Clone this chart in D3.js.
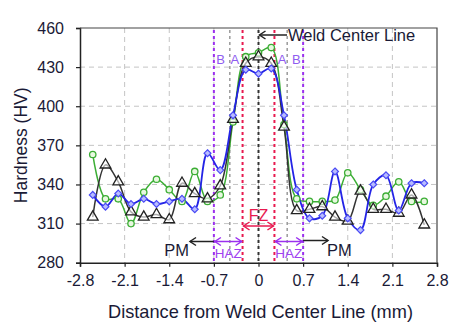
<!DOCTYPE html>
<html>
<head>
<meta charset="utf-8">
<script src="https://cdn.jsdelivr.net/npm/d3@7"></script>
<style>
  html, body { margin: 0; padding: 0; background: #fff; }
  svg text { font-family: "Liberation Sans", Arial, sans-serif; }
</style>
</head>
<body>
<svg id="chart" width="474" height="328"></svg>
<script>
// Measurement positions across the weld (mm from weld centre line)
const positions = [-2.6, -2.4, -2.2, -2.0, -1.8, -1.6, -1.4, -1.2, -1.0, -0.8, -0.6, -0.4, -0.2, 0,
                   0.2, 0.4, 0.6, 0.8, 1.0, 1.2, 1.4, 1.6, 1.8, 2.0, 2.2, 2.4, 2.6];

// Hardness traverses (HV)
const hardnessBlack = [315, 355, 342, 319, 315, 317, 313, 341, 333, 329, 339, 390, 433, 438,
                       433, 384, 320, 321, 323, 315, 312, 335, 321, 321, 318, 332, 309];
const hardnessGreen = [363, 329, 329, 310, 334, 344, 336, 327, 350, 327, 332, 388, 438, 441,
                       445, 386, 329, 327, 327, 328, 349, 336, 324, 331, 342, 327, 327];
const hardnessBlue  = [332, 323, 333, 325, 329, 325, 327, 329, 321, 364, 351, 393, 428, 425,
                       429, 393, 336, 314, 316, 350, 314, 305, 340, 347, 320, 341, 341];

// Axis ticks
const xTicks = [-2.8, -2.1, -1.4, -0.7, 0, 0.7, 1.4, 2.1, 2.8];
const yTicks = [280, 310, 340, 370, 400, 430, 460];

// Zone boundaries (mm)
const hazEdges = [-0.7, 0.7];
const subzoneEdges = [-0.45, 0.45];
const fzEdges = [-0.25, 0.25];
const centerLine = 0;

const svg = d3.select("#chart");
const pL = 80, pR = 437, pT = 28, pB = 262.7;

const x = d3.scaleLinear().domain([-2.8, 2.8]).range([pL, pR]);
const y = d3.scaleLinear().domain([280, 460]).range([pB, pT]);

const inkText = "#1a1a36";
const purple = "#9b30ef";
const red = "#e8194f";

// grid
const grid = svg.append("g");
grid.selectAll("line.h").data(yTicks.slice(1, -1)).enter().append("line")
  .attr("x1", pL).attr("x2", pR)
  .attr("y1", d => y(d)).attr("y2", d => y(d))
  .attr("stroke", "#c4c4c4").attr("stroke-width", 1).attr("stroke-dasharray", "5,4");
grid.selectAll("line.v").data(xTicks.slice(1, -1)).enter().append("line")
  .attr("y1", pT).attr("y2", pB)
  .attr("x1", d => x(d)).attr("x2", d => x(d))
  .attr("stroke", "#c4c4c4").attr("stroke-width", 1).attr("stroke-dasharray", "5,4");

// zone boundary lines
function vline(v, color, w) {
  svg.append("line")
    .attr("x1", x(v)).attr("x2", x(v)).attr("y1", pT + 2).attr("y2", pB)
    .attr("stroke", color).attr("stroke-width", w).attr("stroke-dasharray", "3,3");
}
subzoneEdges.forEach(v => vline(v, "#9a9a9a", 1.5));
hazEdges.forEach(v => vline(v, purple, 2));
fzEdges.forEach(v => vline(v, red, 2));
vline(centerLine, "#333", 2);

// zone letters
const zoneLabels = [
  { t: "B", x: (hazEdges[0] + subzoneEdges[0]) / 2 - 0.02 },
  { t: "A", x: (subzoneEdges[0] + fzEdges[0]) / 2 - 0.02 },
  { t: "A", x: (subzoneEdges[1] + fzEdges[1]) / 2 + 0.02 },
  { t: "B", x: (hazEdges[1] + subzoneEdges[1]) / 2 + 0.02 }
];
svg.selectAll("text.zone").data(zoneLabels).enter().append("text")
  .attr("x", d => x(d.x)).attr("y", 64)
  .attr("text-anchor", "middle").attr("font-size", 13)
  .attr("fill", "#8f5cf0").text(d => d.t);

// axes
const yAxis = d3.axisLeft(y).tickValues(yTicks).tickSize(4).tickPadding(12).tickFormat(d3.format("d"));
const gy = svg.append("g").attr("transform", `translate(${pL},0)`).call(yAxis);
gy.select(".domain").attr("stroke", "#222").attr("stroke-width", 1.5);
gy.selectAll(".tick line").attr("stroke", "#222").attr("stroke-width", 1.2);
gy.selectAll(".tick text").attr("font-size", 16).attr("fill", inkText)
  .attr("font-family", "Liberation Sans, Arial, sans-serif");

const xAxis = d3.axisBottom(x).tickValues(xTicks).tickSize(4).tickPadding(8)
  .tickFormat(d => d === 0 ? "0" : d.toFixed(1));
const gx = svg.append("g").attr("transform", `translate(0,${pB})`).call(xAxis);
gx.select(".domain").attr("stroke", "#222").attr("stroke-width", 1.5);
gx.selectAll(".tick line").attr("stroke", "#222").attr("stroke-width", 1.2);
gx.selectAll(".tick text").attr("font-size", 16).attr("fill", inkText)
  .attr("font-family", "Liberation Sans, Arial, sans-serif");

// frame top/right
svg.append("path")
  .attr("d", `M${pL},${pT}H${pR}V${pB}`)
  .attr("fill", "none").attr("stroke", "#444").attr("stroke-width", 1.2);

// axis titles
svg.append("text")
  .attr("transform", `translate(27,${(pT + pB) / 2}) rotate(-90)`)
  .attr("text-anchor", "middle").attr("font-size", 17.5).attr("fill", inkText)
  .text("Hardness (HV)");
svg.append("text")
  .attr("x", (pL + pR) / 2 + 2).attr("y", 318)
  .attr("text-anchor", "middle").attr("font-size", 18.2).attr("fill", inkText)
  .text("Distance from Weld Center Line (mm)");

// series
const line = d3.line().curve(d3.curveCatmullRom.alpha(0.5))
  .x(d => x(d[0])).y(d => y(d[1]));
const zip = vals => positions.map((p, i) => [p, vals[i]]);

const dBlack = zip(hardnessBlack), dGreen = zip(hardnessGreen), dBlue = zip(hardnessBlue);

svg.append("path").datum(dGreen).attr("d", line)
  .attr("fill", "none").attr("stroke", "#3cae35").attr("stroke-width", 1.5);
svg.append("path").datum(dBlack).attr("d", line)
  .attr("fill", "none").attr("stroke", "#333").attr("stroke-width", 1.5);
svg.append("path").datum(dBlue).attr("d", line)
  .attr("fill", "none").attr("stroke", "#2424e6").attr("stroke-width", 1.8);

// markers
svg.selectAll("circle.g").data(dGreen).enter().append("circle")
  .attr("cx", d => x(d[0])).attr("cy", d => y(d[1])).attr("r", 3.2)
  .attr("fill", "#e8f8e0").attr("stroke", "#3cae35").attr("stroke-width", 1.3);
const tri = d3.symbol().type(d3.symbolTriangle).size(50);
svg.selectAll("path.k").data(dBlack).enter().append("path")
  .attr("d", tri).attr("transform", d => `translate(${x(d[0])},${y(d[1])})`)
  .attr("fill", "#fff").attr("fill-opacity", 0.6).attr("stroke", "#222").attr("stroke-width", 1.3);
const dia = d3.symbol().type(d3.symbolDiamond2).size(30);
svg.selectAll("path.b").data(dBlue).enter().append("path")
  .attr("d", dia).attr("transform", d => `translate(${x(d[0])},${y(d[1])})`)
  .attr("fill", "#b8bcff").attr("stroke", "#4a4af5").attr("stroke-width", 1.2);

// arrows
function head(g, x0, y0, dir, color) {
  g.append("path")
    .attr("d", `M${x0 + dir * 6},${y0 - 4}L${x0},${y0}L${x0 + dir * 6},${y0 + 4}`)
    .attr("fill", "none").attr("stroke", color).attr("stroke-width", 1.5);
}
function arrow(x1, x2, yy, color, both) {
  const g = svg.append("g");
  g.append("line").attr("x1", x1).attr("x2", x2).attr("y1", yy).attr("y2", yy)
    .attr("stroke", color).attr("stroke-width", 1.5);
  head(g, x2, yy, x2 < x1 ? 1 : -1, color);
  if (both) head(g, x1, yy, x1 < x2 ? 1 : -1, color);
}

// weld centre line callout
arrow(287, x(centerLine) + 1, 35, "#222", false);
svg.append("text").attr("x", 288).attr("y", 41).attr("font-size", 16.5).attr("fill", inkText)
  .text("Weld Center Line");

// fusion zone
arrow(x(fzEdges[0]) + 1, x(fzEdges[1]) - 1, 226, red, true);
svg.append("text").attr("x", x(centerLine)).attr("y", 221).attr("text-anchor", "middle")
  .attr("font-size", 16).attr("fill", red).text("FZ");

// heat-affected zones
arrow(x(hazEdges[0]) + 1, x(fzEdges[0]) - 1, 241.5, purple, true);
arrow(x(fzEdges[1]) + 1, x(hazEdges[1]) - 1, 241.5, purple, true);
svg.append("text").attr("x", (x(hazEdges[0]) + x(fzEdges[0])) / 2).attr("y", 258)
  .attr("text-anchor", "middle").attr("font-size", 13.5).attr("fill", "#a040f0").text("HAZ");
svg.append("text").attr("x", (x(hazEdges[1]) + x(fzEdges[1])) / 2).attr("y", 258)
  .attr("text-anchor", "middle").attr("font-size", 13.5).attr("fill", "#a040f0").text("HAZ");

// parent metal
arrow(x(hazEdges[0]), 190, 241.5, "#222", false);
arrow(x(hazEdges[1]), 328, 240.5, "#222", false);
svg.append("text").attr("x", 189).attr("y", 256).attr("text-anchor", "end")
  .attr("font-size", 16.5).attr("fill", inkText).text("PM");
svg.append("text").attr("x", 327).attr("y", 256)
  .attr("font-size", 16.5).attr("fill", inkText).text("PM");
</script>
</body>
</html>
